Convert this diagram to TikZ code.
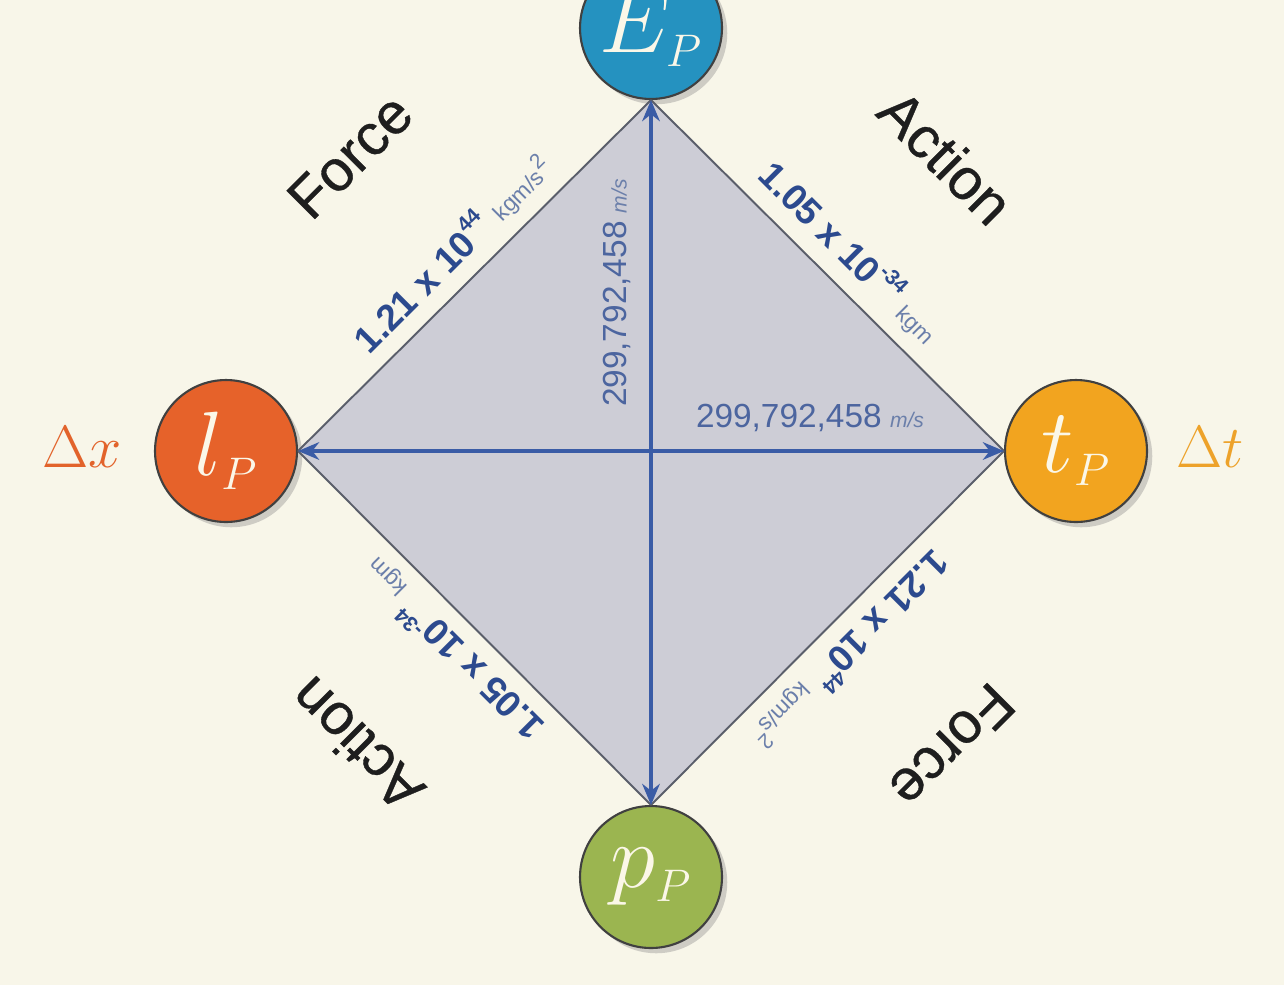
\documentclass[tikz,border=0pt]{standalone}
\usepackage{fix-cm}
\usepackage[no-math]{fontspec}
\setmainfont{Liberation Sans}
\newfontfamily\catfont[FakeBold=0.6]{Liberation Sans}
\usetikzlibrary{arrows.meta,shadows}
\definecolor{bg}{HTML}{F8F6E9}
\definecolor{dfill}{HTML}{CDCDD6}
\definecolor{dedge}{HTML}{5A5E6A}
\definecolor{arrowblue}{HTML}{3A5CA6}
\definecolor{ecol}{HTML}{2592C0}
\definecolor{lcol}{HTML}{E6622A}
\definecolor{tcol}{HTML}{F2A41F}
\definecolor{pcol}{HTML}{9BB550}
\definecolor{dxcol}{HTML}{E2632B}
\definecolor{dtcol}{HTML}{EDA22A}
\definecolor{numblue}{HTML}{2C4A8E}
\definecolor{unitblue}{HTML}{6B7FAA}
\definecolor{cream}{HTML}{FBF7E8}
\definecolor{ink}{HTML}{1E1E1E}
\newcommand{\supn}[1]{\raisebox{0.5em}{\fontsize{12}{12}\selectfont #1}}
\newcommand{\unitx}[1]{{\fontsize{13}{14}\selectfont\mdseries\color{unitblue}#1}}
\tikzset{
  planck/.style={circle, minimum size=2.84cm, inner sep=0pt, draw=black!75, line width=1.2pt,
    text=cream, font=\fontsize{52}{60}\selectfont,
    drop shadow={shadow xshift=3pt, shadow yshift=-3pt, opacity=0.35}},
  catlabel/.style={text=ink, font=\catfont\fontsize{33}{38}\selectfont, inner sep=0pt},
  edgelabel/.style={text=numblue, font=\fontsize{21}{24}\selectfont\bfseries, inner sep=0pt},
  midlabel/.style={text=numblue!85!white, font=\fontsize{19}{22}\selectfont, inner sep=0pt},
  dedgeline/.style={draw=dedge, line width=1.1pt},
  axis/.style={draw=arrowblue, line width=2.5pt, {Stealth[length=12pt,width=10pt]}-{Stealth[length=12pt,width=10pt]}},
  delta/.style={font=\fontsize{34}{40}\selectfont, inner sep=0pt}
}
\begin{document}
\begin{tikzpicture}[x=0.02cm, y=-0.02cm]
\useasboundingbox (0,0) rectangle (1284,985);
\fill[bg] (0,0) rectangle (1284,985);
\clip (0,0) rectangle (1284,985);

% circles
\node[planck, fill=ecol] (ep) at (651,28) {$E_{\scriptscriptstyle P}$};
\node[planck, fill=lcol] (lp) at (226,451) {$l_{\scriptscriptstyle P}$};
\node[planck, fill=tcol] (tp) at (1076,451) {$t_{\scriptscriptstyle P}$};
\node[planck, fill=pcol] (pp) at (651,877) {$p_{\scriptscriptstyle P}$};

% diamond
\fill[dfill] (lp.east) -- (ep.south) -- (tp.west) -- (pp.north) -- cycle;
\draw[dedgeline] (lp.east) -- (ep.south);
\draw[dedgeline] (ep.south) -- (tp.west);
\draw[dedgeline] (tp.west) -- (pp.north);
\draw[dedgeline] (pp.north) -- (lp.east);

% axes
\draw[axis] (ep) -- (pp);
\draw[axis] (lp) -- (tp);

% delta labels
\node[delta, text=dxcol] (dx) at (82,447) {$\Delta x$};
\node[delta, text=dtcol] (dt) at (1210,447) {$\Delta t$};

% category labels
\node[catlabel, rotate=45] (f1) at (350,156) {Force};
\node[catlabel, rotate=-45] (a1) at (946,157) {Action};
\node[catlabel, rotate=135] (a2) at (356,745) {Action};
\node[catlabel, rotate=-135] (f2) at (952,746) {Force};

% edge labels
\node[edgelabel, rotate=45] (n1) at (452,253) {1.21 x 10\supn{44}\hspace{0.3em}\unitx{kgm/s\supn{2}}};
\node[edgelabel, rotate=-45] (n2) at (851,252) {1.05 x 10\supn{-34}\hspace{0.3em}\unitx{kgm}};
\node[edgelabel, rotate=135] (n3) at (452,650) {1.05 x 10\supn{-34}\hspace{0.3em}\unitx{kgm}};
\node[edgelabel, rotate=-135] (n4) at (851,650) {1.21 x 10\supn{44}\hspace{0.3em}\unitx{kgm/s\supn{2}}};

% speed labels
\node[midlabel, rotate=90] (c1) at (617,293) {299,792,458\hspace{0.25em}{\fontsize{12}{14}\selectfont\itshape\color{unitblue}m/s}};
\node[midlabel] (c2) at (810,418) {299,792,458\hspace{0.25em}{\fontsize{12}{14}\selectfont\itshape\color{unitblue}m/s}};
\end{tikzpicture}
\end{document}
